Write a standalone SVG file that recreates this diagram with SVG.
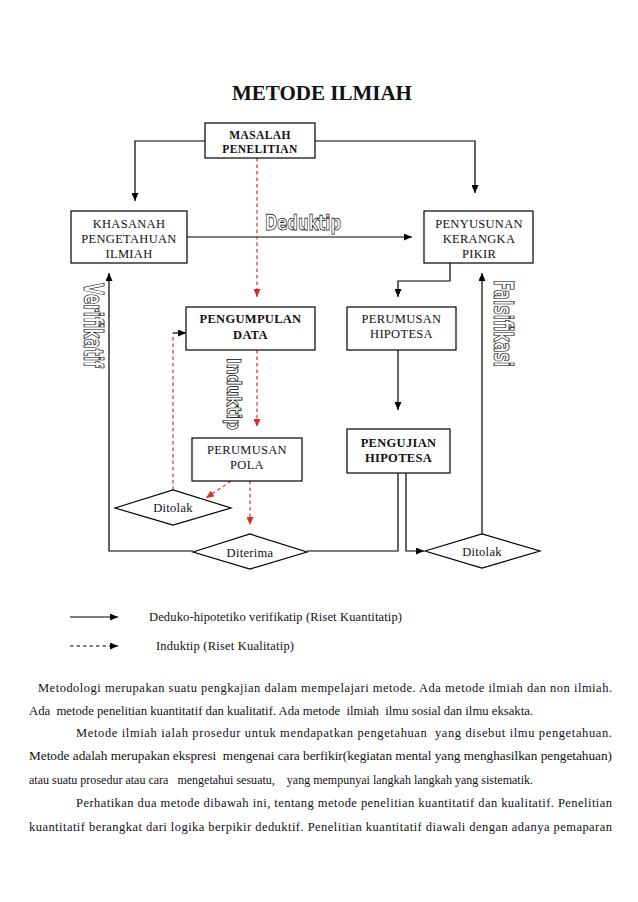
<svg xmlns="http://www.w3.org/2000/svg" width="638" height="902" viewBox="0 0 638 902">
<style>
.bg{fill:#fff}
.box{fill:#fff;stroke:#000;stroke-width:1.2}
.t{font-family:"Liberation Serif","Times New Roman",serif;font-size:12.5px;fill:#111;text-anchor:middle;letter-spacing:0.3px}
.tb{font-family:"Liberation Serif","Times New Roman",serif;font-size:12.5px;font-weight:bold;fill:#111;text-anchor:middle;letter-spacing:0.3px}
.ts{font-family:"Liberation Serif","Times New Roman",serif;font-size:11.5px;font-weight:bold;fill:#111;text-anchor:middle;letter-spacing:0.4px}
.title{font-family:"Liberation Serif","Times New Roman",serif;font-size:21px;font-weight:bold;fill:#111;text-anchor:middle}
.ol{font-family:"DejaVu Sans Condensed","DejaVu Sans","Liberation Sans",sans-serif;font-stretch:condensed;font-weight:bold;fill:#fff;stroke:#000;stroke-width:0.75}
.p{font-family:"Liberation Serif","Times New Roman",serif;font-size:12.5px;fill:#111;white-space:pre}
.c{fill:none;stroke:#000;stroke-width:1.2}
.r{fill:none;stroke:#d2302c;stroke-width:1.2;stroke-dasharray:3.5,3}
.d{fill:none;stroke:#000;stroke-width:1.2;stroke-dasharray:3.5,3}
</style>
<defs>
<marker id="ab" markerWidth="8" markerHeight="7" refX="8" refY="3.5" orient="auto" markerUnits="userSpaceOnUse"><path d="M0,0 L8,3.5 L0,7 z" fill="#000"/></marker>
<marker id="ar" markerWidth="8" markerHeight="7" refX="8" refY="3.5" orient="auto" markerUnits="userSpaceOnUse"><path d="M0,0 L8,3.5 L0,7 z" fill="#d2302c"/></marker>
</defs>
<rect class="bg" x="0" y="0" width="638" height="902"/>
<text class="title" x="322" y="100">METODE ILMIAH</text>

<g id="connectors">
<polyline class="c" points="205,141 135,141 135,201" marker-end="url(#ab)"/>
<polyline class="c" points="315,141 475,141 475,193" marker-end="url(#ab)"/>
<polyline class="c" points="187,237 412,237" marker-end="url(#ab)"/>
<polyline class="c" points="450,263 450,281 398,281 398,297" marker-end="url(#ab)"/>
<polyline class="c" points="398,350 398,410" marker-end="url(#ab)"/>
<polyline class="c" points="398,473 398,551 307,551"/>
<polyline class="c" points="193,551 109,551 109,273" marker-end="url(#ab)"/>
<polyline class="c" points="406,473 406,551 424,551" marker-end="url(#ab)"/>
<polyline class="c" points="482,534 482,273" marker-end="url(#ab)"/>
<polyline class="r" points="257,158 257,297" marker-end="url(#ar)"/>
<polyline class="r" points="257,350 257,427" marker-end="url(#ar)"/>
<polyline class="r" points="231,481 206,498" marker-end="url(#ar)"/>
<polyline class="r" points="250,481 250,525" marker-end="url(#ar)"/>
<polyline class="r" points="173,490 173,333"/>
<polyline class="c" points="173,333 186,333" marker-end="url(#ab)"/>
</g>

<g id="masalah">
<rect class="box" x="205" y="123" width="110" height="35"/>
<text class="ts" x="260" y="139">MASALAH</text>
<text class="ts" x="260" y="153">PENELITIAN</text>
</g>
<g id="khasanah">
<rect class="box" x="71" y="211" width="116" height="52"/>
<text class="t" x="129" y="228">KHASANAH</text>
<text class="t" x="129" y="243">PENGETAHUAN</text>
<text class="t" x="129" y="258">ILMIAH</text>
</g>
<g id="penyusunan">
<rect class="box" x="424" y="211" width="109" height="52"/>
<text class="t" x="479" y="228">PENYUSUNAN</text>
<text class="t" x="479" y="243">KERANGKA</text>
<text class="t" x="479" y="258">PIKIR</text>
</g>
<g id="pengumpulan">
<rect class="box" x="186" y="307" width="129" height="43"/>
<text class="tb" x="250.5" y="323">PENGUMPULAN</text>
<text class="tb" x="250.5" y="339">DATA</text>
</g>
<g id="perumusan-hipotesa">
<rect class="box" x="347" y="307" width="109" height="43"/>
<text class="t" x="401.5" y="323">PERUMUSAN</text>
<text class="t" x="401.5" y="338">HIPOTESA</text>
</g>
<g id="perumusan-pola">
<rect class="box" x="192" y="438" width="110" height="43"/>
<text class="t" x="247" y="454">PERUMUSAN</text>
<text class="t" x="247" y="469">POLA</text>
</g>
<g id="pengujian">
<rect class="box" x="347" y="429" width="103" height="44"/>
<text class="tb" x="398.5" y="447">PENGUJIAN</text>
<text class="tb" x="398.5" y="462">HIPOTESA</text>
</g>
<g id="ditolak-kiri">
<polygon class="box" points="115,508 173,490 231,508 173,525"/>
<text class="t" x="173" y="512">Ditolak</text>
</g>
<g id="diterima">
<polygon class="box" points="193,552 250,534 307,552 250,569"/>
<text class="t" x="250" y="557">Diterima</text>
</g>
<g id="ditolak-kanan">
<polygon class="box" points="425,551 482,534 540,551 482,568"/>
<text class="t" x="482" y="556">Ditolak</text>
</g>

<g id="labels">
<text class="ol" x="265" y="230" font-size="22" textLength="76" lengthAdjust="spacingAndGlyphs">Deduktip</text>
<text class="ol" font-size="27" textLength="85" lengthAdjust="spacingAndGlyphs" transform="translate(84,283) rotate(90)">Verifikatif</text>
<text class="ol" font-size="27" textLength="87" lengthAdjust="spacingAndGlyphs" transform="translate(494,280) rotate(90)">Falsifikasi</text>
<text class="ol" font-size="19" textLength="72" lengthAdjust="spacingAndGlyphs" transform="translate(226.5,358) rotate(90)">Induktip</text>
</g>

<g id="legend">
<line class="c" x1="70" y1="617" x2="118" y2="617" marker-end="url(#ab)"/>
<text class="p" x="149" y="621" textLength="253" lengthAdjust="spacing">Deduko-hipotetiko verifikatip (Riset Kuantitatip)</text>
<line class="d" x1="70" y1="646" x2="118" y2="646" marker-end="url(#ab)"/>
<text class="p" x="156" y="650" textLength="138" lengthAdjust="spacing">Induktip (Riset Kualitatip)</text>
</g>

<g id="paragraph">
<text class="p" x="38" y="692" textLength="574" lengthAdjust="spacing">Metodologi merupakan suatu pengkajian dalam mempelajari metode. Ada metode ilmiah dan non ilmiah.</text>
<text class="p" x="29" y="715" textLength="504" lengthAdjust="spacingAndGlyphs" font-size="12">Ada  metode penelitian kuantitatif dan kualitatif. Ada metode  ilmiah  ilmu sosial dan ilmu eksakta.</text>
<text class="p" x="76" y="737" textLength="536" lengthAdjust="spacing">Metode ilmiah ialah prosedur untuk mendapatkan pengetahuan  yang disebut ilmu pengetahuan.</text>
<text class="p" x="29" y="760" textLength="583" lengthAdjust="spacingAndGlyphs" font-size="12">Metode adalah merupakan ekspresi  mengenai cara berfikir(kegiatan mental yang menghasilkan pengetahuan)</text>
<text class="p" x="29" y="784" textLength="504" lengthAdjust="spacingAndGlyphs" font-size="12">atau suatu prosedur atau cara   mengetahui sesuatu,    yang mempunyai langkah langkah yang sistematik.</text>
<text class="p" x="76" y="807" textLength="536" lengthAdjust="spacing">Perhatikan dua metode dibawah ini, tentang metode penelitian kuantitatif dan kualitatif. Penelitian</text>
<text class="p" x="29" y="831" textLength="583" lengthAdjust="spacing">kuantitatif berangkat dari logika berpikir deduktif. Penelitian kuantitatif diawali dengan adanya pemaparan</text>
</g>
</svg>
